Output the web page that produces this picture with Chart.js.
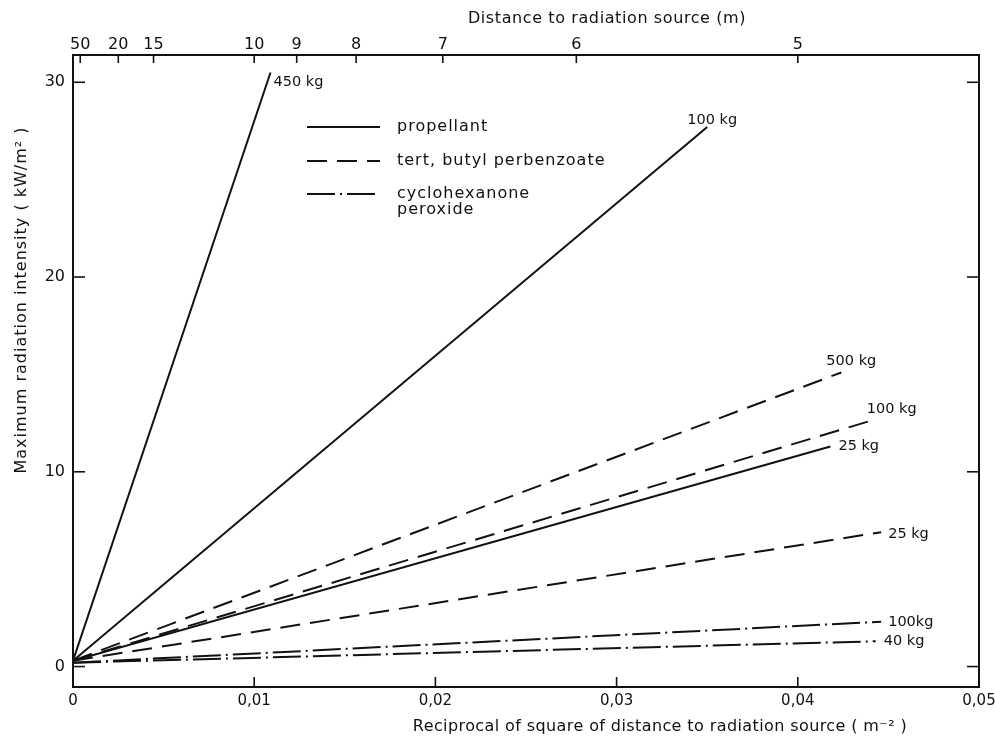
<!DOCTYPE html>
<html lang="en">
<head>
<meta charset="UTF-8">
<title>Maximum radiation intensity vs distance</title>
<script src="https://cdn.jsdelivr.net/npm/chart.js"></script>
<style>
  body { margin: 0; background: #fff; }
  #wrap { width: 995px; height: 740px; }
</style>
</head>
<body>
<div id="wrap"><canvas id="chart" width="995" height="740"></canvas></div>
<script>
// values: x = 1/d^2 (m^-2), y = kW/m^2
const propellantMass = ['450 kg', '100 kg', '25 kg'];
const propellantX = [[0, 0.0109], [0, 0.0350], [0, 0.0418]];
const propellantY = [[0.3, 30.5], [0.3, 27.7], [0.3, 11.3]];

const perbenzoateMass = ['500 kg', '100 kg', '25 kg'];
const perbenzoateX = [[0, 0.0424], [0, 0.0443], [0, 0.0446]];
const perbenzoateY = [[0.3, 15.1], [0.3, 12.7], [0.3, 6.9]];

const peroxideMass = ['100kg', '40 kg'];
const peroxideX = [[0, 0.0446], [0, 0.0443]];
const peroxideY = [[0.2, 2.3], [0.2, 1.3]];

const xTicks = [0, 0.01, 0.02, 0.03, 0.04, 0.05];
const yTicks = [0, 10, 20, 30];
const distanceTicks = [50, 20, 15, 10, 9, 8, 7, 6, 5];

const INK = '#111';
const FONT = '"DejaVu Sans", sans-serif';

const dashSolid = [];
const dashLong = [20, 10];
const dashDot = [28, 5, 2, 5];

// label offsets from the end of each line: [dx, dy, align]
const propellantLabelPos = [[3, 10, 'left'], [5, -7, 'center'], [8, 0, 'left']];
const perbenzoateLabelPos = [[10, -11, 'center'], [16, -10, 'center'], [7, 2, 'left']];
const peroxideLabelPos = [[7, 0, 'left'], [8, 0, 'left']];

function makeSeries(xs, ys, names, dash, labelPos) {
  return xs.map((row, i) => ({
    label: names[i],
    data: row.map((x, j) => ({ x: x, y: ys[i][j] })),
    borderColor: INK,
    borderWidth: 2,
    borderDash: dash,
    pointRadius: 0,
    showLine: true,
    fill: false,
    labelPos: labelPos[i]
  }));
}

const datasets = [].concat(
  makeSeries(propellantX, propellantY, propellantMass, dashSolid, propellantLabelPos),
  makeSeries(perbenzoateX, perbenzoateY, perbenzoateMass, dashLong, perbenzoateLabelPos),
  makeSeries(peroxideX, peroxideY, peroxideMass, dashDot, peroxideLabelPos)
);

function line(ctx, x1, y1, x2, y2) {
  ctx.beginPath();
  ctx.moveTo(x1, y1);
  ctx.lineTo(x2, y2);
  ctx.stroke();
}

const decorations = {
  id: 'decorations',
  afterDatasetsDraw(chart) {
    const ctx = chart.ctx;
    ctx.save();
    ctx.fillStyle = INK;
    ctx.font = '14.5px ' + FONT;
    ctx.textBaseline = 'middle';
    chart.data.datasets.forEach((ds, i) => {
      const pts = chart.getDatasetMeta(i).data;
      const end = pts[pts.length - 1];
      const p = ds.labelPos;
      ctx.textAlign = p[2];
      ctx.fillText(ds.label, end.x + p[0], end.y + p[1]);
    });
    ctx.restore();
  },
  afterDraw(chart) {
    const ctx = chart.ctx;
    const a = chart.chartArea;
    const sx = chart.scales.x, sy = chart.scales.y;
    ctx.save();
    ctx.strokeStyle = INK;
    ctx.fillStyle = INK;

    // frame
    ctx.lineWidth = 2;
    ctx.strokeRect(a.left, a.top, a.right - a.left, a.bottom - a.top);

    // inward tick marks
    ctx.lineWidth = 1.6;
    yTicks.forEach(v => {
      const y = sy.getPixelForValue(v);
      line(ctx, a.left, y, a.left + 12, y);
      line(ctx, a.right, y, a.right - 12, y);
    });
    xTicks.slice(1, -1).forEach(v => {
      const x = sx.getPixelForValue(v);
      line(ctx, x, a.bottom, x, a.bottom - 10);
    });
    distanceTicks.forEach(d => {
      const x = sx.getPixelForValue(1 / (d * d));
      line(ctx, x, a.top, x, a.top + 8);
    });

    // axis titles
    ctx.textAlign = 'center';
    ctx.textBaseline = 'middle';
    ctx.font = '16px ' + FONT;
    ctx.letterSpacing = '0.6px';
    ctx.fillText('Distance to radiation source (m)', 607, 19);
    ctx.letterSpacing = '0.4px';
    ctx.fillText('Reciprocal of square of distance to radiation source ( m\u207B\u00B2 )', 660, 727);
    ctx.save();
    ctx.translate(22, 300);
    ctx.rotate(-Math.PI / 2);
    ctx.letterSpacing = '1px';
    ctx.fillText('Maximum radiation intensity ( kW/m\u00B2 )', 0, 0);
    ctx.restore();

    // legend
    const lx1 = 307, lx2 = 380, tx = 397;
    const rows = [
      { dash: dashSolid, text: ['propellant'], y: 127 },
      { dash: dashLong, text: ['tert, butyl perbenzoate'], y: 161 },
      { dash: dashDot, text: ['cyclohexanone', 'peroxide'], y: 194 }
    ];
    ctx.textAlign = 'left';
    ctx.letterSpacing = '1px';
    rows.forEach(r => {
      ctx.lineWidth = 2;
      ctx.setLineDash(r.dash);
      line(ctx, lx1, r.y, lx2, r.y);
      ctx.setLineDash([]);
      r.text.forEach((t, k) => ctx.fillText(t, tx, r.y + k * 16));
    });
    ctx.restore();
  }
};

new Chart(document.getElementById('chart'), {
  type: 'scatter',
  data: { datasets: datasets },
  options: {
    responsive: false,
    animation: false,
    layout: { padding: { left: 0, right: 16, top: 0, bottom: 0 } },
    plugins: {
      legend: { display: false },
      tooltip: { enabled: false }
    },
    scales: {
      x: {
        type: 'linear',
        position: 'bottom',
        min: 0,
        max: 0.05,
        afterBuildTicks: s => { s.ticks = xTicks.map(v => ({ value: v })); },
        afterFit: s => { s.height = 53; s.paddingRight = 0; s.paddingLeft = 0; },
        grid: { display: false, drawTicks: false },
        border: { display: false },
        ticks: {
          autoSkip: false,
          maxRotation: 0,
          padding: 5,
          color: INK,
          font: { family: FONT, size: 15 },
          callback: v => v === 0 ? '0' : v.toFixed(2).replace('.', ',')
        }
      },
      x2: {
        type: 'linear',
        position: 'top',
        min: 0,
        max: 0.05,
        afterBuildTicks: s => { s.ticks = distanceTicks.map(d => ({ value: 1 / (d * d) })); },
        afterFit: s => { s.height = 55; s.paddingRight = 0; s.paddingLeft = 0; },
        grid: { display: false, drawTicks: false },
        border: { display: false },
        ticks: {
          autoSkip: false,
          maxRotation: 0,
          padding: 1,
          color: INK,
          font: { family: FONT, size: 16 },
          callback: (v, i) => String(distanceTicks[i])
        }
      },
      y: {
        type: 'linear',
        position: 'left',
        min: -1.05,
        max: 31.4,
        afterBuildTicks: s => { s.ticks = yTicks.map(v => ({ value: v })); },
        afterFit: s => { s.width = 73; },
        grid: { display: false, drawTicks: false },
        border: { display: false },
        ticks: {
          padding: 8,
          color: INK,
          font: { family: FONT, size: 16 },
          callback: v => String(v)
        }
      }
    }
  },
  plugins: [decorations]
});
</script>
</body>
</html>
